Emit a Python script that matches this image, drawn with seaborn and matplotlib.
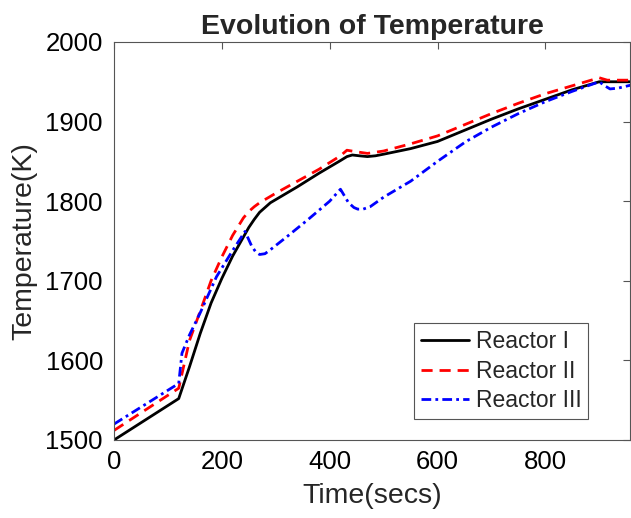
import matplotlib
matplotlib.use("Agg")
import matplotlib.pyplot as plt
import seaborn as sns
import pandas as pd

t1 = [0, 120, 140, 160, 180, 200, 220, 240, 250, 260, 270, 280, 290, 300, 340, 380, 420, 432, 442, 455, 470, 485, 500, 550, 600, 650, 700, 750, 800, 850, 900, 960]
T1 = [1500, 1552, 1592, 1634, 1672, 1703, 1731, 1755, 1767, 1777, 1786, 1792, 1798, 1802, 1818, 1835, 1851, 1856, 1858, 1857, 1856, 1857, 1859, 1866, 1875, 1889, 1903, 1916, 1928, 1940, 1950, 1950]

t2 = [0, 120, 125, 140, 160, 180, 200, 220, 240, 250, 260, 270, 280, 300, 340, 380, 420, 432, 450, 470, 500, 550, 600, 650, 700, 750, 800, 850, 900, 915, 960]
T2 = [1512, 1565, 1580, 1625, 1662, 1700, 1730, 1757, 1779, 1787, 1793, 1798, 1802, 1810, 1825, 1840, 1857, 1864, 1862, 1860, 1863, 1872, 1882, 1896, 1910, 1923, 1935, 1945, 1955, 1952, 1952]

t3 = [0, 120, 126, 140, 160, 190, 220, 243, 255, 263, 270, 280, 290, 320, 360, 400, 420, 435, 445, 452, 462, 475, 500, 550, 600, 653, 700, 750, 800, 850, 900, 910, 920, 935, 960]
T3 = [1520, 1571, 1609, 1632, 1660, 1705, 1738, 1762, 1744, 1736, 1733, 1734, 1739, 1755, 1777, 1800, 1815, 1798, 1792, 1790, 1790, 1793, 1805, 1825, 1850, 1875, 1893, 1910, 1925, 1938, 1950, 1945, 1941, 1942, 1946]

labels = ["Reactor I", "Reactor II", "Reactor III"]

sns.set_style("white")
plt.rcParams['font.family'] = ['Liberation Sans', 'DejaVu Sans']

fig = plt.figure(figsize=(6.31, 5.18), dpi=100)
ax = fig.add_axes([0.1807, 0.1506, 0.8177, 0.7684])

df1 = pd.DataFrame({"t": t1, "T": T1})
df2 = pd.DataFrame({"t": t2, "T": T2})
df3 = pd.DataFrame({"t": t3, "T": T3})

sns.lineplot(data=df1, x="t", y="T", ax=ax, color="black", lw=2, label=labels[0], sort=False)
sns.lineplot(data=df2, x="t", y="T", ax=ax, color="#ff0000", lw=2, linestyle=(0, (4, 2.5)), label=labels[1], sort=False)
sns.lineplot(data=df3, x="t", y="T", ax=ax, color="#0000ff", lw=2, linestyle=(0, (3.5, 1.5, 1, 1.5)), label=labels[2], sort=False)

ax.set_xlim(0, 957)
ax.set_ylim(1500, 2000)
ax.set_xticks([0, 200, 400, 600, 800])
ax.set_yticks([1500, 1600, 1700, 1800, 1900, 2000])
ax.tick_params(direction="in", length=5, width=0.8, color="#555555", labelsize=18.5,
               top=True, right=True, labelcolor="black")
ax.tick_params(axis="y", pad=8)
ax.tick_params(axis="x", pad=7)
for s in ax.spines.values():
    s.set_color("#555555")
    s.set_linewidth(0.8)

ax.set_xlabel("Time(secs)", fontsize=20.5, labelpad=7)
ax.set_ylabel("Temperature(K)", fontsize=20.5, labelpad=6)
ax.set_title("Evolution of Temperature", fontsize=20.5, fontweight="bold", pad=6)

leg = ax.legend(loc="lower right", bbox_to_anchor=(0.919, 0.053), fontsize=16.5,
                frameon=True, fancybox=False, edgecolor="#555555", framealpha=1,
                handlelength=2.1, borderpad=0.3, labelspacing=0.28, handletextpad=0.3,
                borderaxespad=0)
leg.get_frame().set_linewidth(0.8)

fig.savefig("out.png", dpi=100)
